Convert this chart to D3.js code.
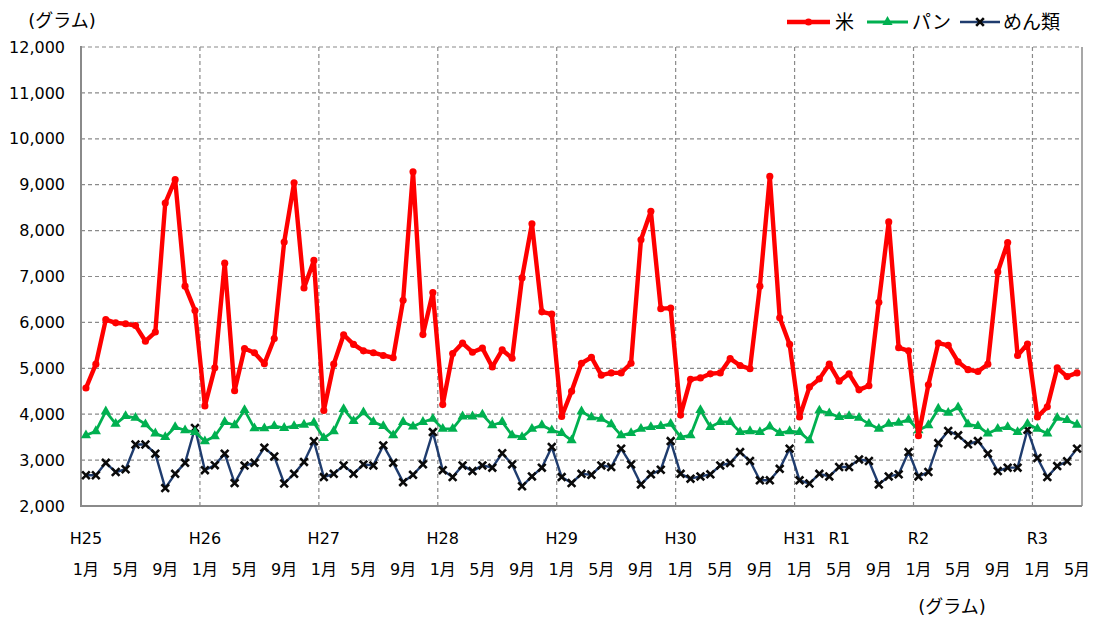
<!DOCTYPE html>
<html><head><meta charset="utf-8">
<script src="https://cdn.jsdelivr.net/npm/d3@7"></script>
<style>
html,body{margin:0;padding:0;background:#fff;}
svg{display:block;font-family:"DejaVu Sans","Noto Sans CJK JP",sans-serif;}
</style></head>
<body>
<svg id="chart" width="1095" height="621"></svg>
<script>
// ---- data (monthly, H25 Jan .. R3 May) ----
const yearLabels = ["H25","H26","H27","H28","H29","H30","H31","R1","R2","R3"];
const yearLabelIndex = [0,12,24,36,48,60,72,76,84,96];
const monthLabels = ["1月","5月","9月"];
const seriesNames = ["米","パン","めん類"];
const yTicks = [2000,3000,4000,5000,6000,7000,8000,9000,10000,11000,12000];

const rice = [4570,5090,6060,5990,5970,5930,5590,5790,8600,9110,6790,6260,
4180,5010,7290,4510,5430,5340,5100,5650,7750,9040,6750,7350,
4080,5090,5730,5520,5380,5340,5280,5230,6480,9280,5735,6650,
4210,5320,5550,5350,5440,5030,5400,5220,6970,8150,6230,6180,
3950,4500,5110,5240,4850,4900,4900,5110,7800,8420,6300,6310,
3980,4760,4790,4880,4900,5210,5060,4990,6790,9180,6100,5520,
3940,4590,4770,5090,4720,4880,4530,4620,6440,8190,5450,5380,
3530,4640,5550,5500,5140,4970,4930,5090,7100,7740,5280,5530,
3940,4160,5010,4820,4900];
const bread = [3540,3630,4060,3790,3960,3920,3780,3580,3500,3720,3650,3610,
3410,3520,3830,3760,4090,3690,3690,3740,3700,3740,3770,3815,
3480,3630,4110,3850,4040,3830,3740,3540,3830,3730,3830,3900,
3680,3680,3950,3950,3990,3760,3830,3540,3500,3680,3760,3650,
3590,3430,4060,3930,3900,3780,3540,3590,3680,3720,3740,3790,
3500,3540,4090,3720,3830,3830,3610,3630,3610,3730,3590,3630,
3610,3430,4080,4020,3940,3960,3920,3790,3680,3790,3810,3880,
3650,3760,4120,4030,4150,3780,3740,3580,3680,3720,3610,3790,
3680,3580,3920,3870,3770];
const noodles = [2670,2670,2940,2740,2800,3340,3340,3140,2390,2700,2940,3700,
2780,2890,3140,2500,2880,2940,3270,3080,2490,2700,2960,3410,
2630,2700,2885,2700,2905,2885,3320,2940,2520,2680,2907,3610,
2780,2630,2885,2760,2885,2835,3150,2905,2430,2645,2835,3285,
2630,2500,2700,2680,2885,2850,3250,2905,2470,2690,2790,3415,
2700,2595,2645,2690,2885,2935,3175,2980,2560,2560,2810,3250,
2560,2490,2700,2645,2850,2850,3015,2980,2470,2645,2690,3175,
2645,2740,3370,3635,3540,3345,3415,3140,2760,2835,2835,3660,
3045,2630,2870,2975,3250];

// ---- layout ----
const svg = d3.select("#chart");
const L = 81, R = 1082, T = 47, B = 506;
const idx = d3.range(rice.length);
const x = d3.scaleBand().domain(idx).range([L, R]).padding(0);
const cx = i => x(i) + x.bandwidth() / 2;
const y = d3.scaleLinear().domain([2000, 12000]).range([B, T]);

const gridColor = "#8a8a8a";
// horizontal grid
svg.append("g").selectAll("line").data(yTicks.filter(v => v > 2000)).join("line")
  .attr("x1", L).attr("x2", R).attr("y1", d => y(d)).attr("y2", d => y(d))
  .attr("stroke", gridColor).attr("stroke-width", 1.2).attr("stroke-dasharray", "4,3");
// vertical grid at year boundaries
const yearBounds = idx.filter(i => i > 0 && i % 12 === 0);
svg.append("g").selectAll("line").data(yearBounds).join("line")
  .attr("x1", d => x(d)).attr("x2", d => x(d)).attr("y1", T).attr("y2", B)
  .attr("stroke", gridColor).attr("stroke-width", 1.2).attr("stroke-dasharray", "4,3");

// frame
svg.append("line").attr("x1", R).attr("x2", R).attr("y1", T).attr("y2", B)
  .attr("stroke", gridColor).attr("stroke-width", 1.5);
svg.append("line").attr("x1", L).attr("x2", L).attr("y1", T - 1).attr("y2", B + 1)
  .attr("stroke", gridColor).attr("stroke-width", 2);
svg.append("line").attr("x1", L).attr("x2", R).attr("y1", B).attr("y2", B)
  .attr("stroke", gridColor).attr("stroke-width", 2);

// y axis labels
const yAxis = d3.axisLeft(y).tickValues(yTicks).tickFormat(d3.format(",")).tickSize(0).tickPadding(16);
const gy = svg.append("g").attr("transform", `translate(${L},0)`).call(yAxis);
gy.select(".domain").remove();
gy.selectAll("text").attr("font-size", 16).attr("fill", "#000")
  .attr("font-family", "'DejaVu Sans','Noto Sans CJK JP',sans-serif");

// x labels
svg.append("g").selectAll("text").data(yearLabels).join("text")
  .attr("x", (d, k) => cx(yearLabelIndex[k])).attr("y", 544)
  .attr("text-anchor", "middle").attr("font-size", 16).attr("fill", "#000").text(d => d);
const monthIdx = idx.filter(i => i % 4 === 0);
svg.append("g").selectAll("text").data(monthIdx).join("text")
  .attr("x", d => cx(d)).attr("y", 575)
  .attr("text-anchor", "middle").attr("font-size", 16).attr("fill", "#000")
  .text(d => monthLabels[(d % 12) / 4]);

// unit labels
svg.append("text").attr("x", 62).attr("y", 27).attr("text-anchor", "middle")
  .attr("font-size", 18).attr("fill", "#000").text("(グラム)");
svg.append("text").attr("x", 952).attr("y", 613).attr("text-anchor", "middle")
  .attr("font-size", 18).attr("fill", "#000").text("(グラム)");

// series
const line = d3.line().x((d, i) => cx(i)).y(d => y(d));
const series = [
  {name: seriesNames[0], data: rice, color: "#ff0000", w: 4.4, marker: "circle"},
  {name: seriesNames[1], data: bread, color: "#00b050", w: 2.8, marker: "triangle"},
  {name: seriesNames[2], data: noodles, color: "#1f3c6e", w: 2.4, marker: "x"}
];
const symCircle = d3.symbol().type(d3.symbolCircle).size(40)();
const symTri = d3.symbol().type(d3.symbolTriangle).size(45)();
const symX = d3.symbol().type(d3.symbolX).size(40)();

function drawMarker(g, s, px, py) {
  if (s.marker === "circle") {
    g.append("path").attr("d", symCircle).attr("transform", `translate(${px},${py})`).attr("fill", s.color);
  } else if (s.marker === "triangle") {
    g.append("path").attr("d", symTri).attr("transform", `translate(${px},${py})`).attr("fill", s.color);
  } else {
    g.append("path").attr("d", symX).attr("transform", `translate(${px},${py})`)
      .attr("fill", "none").attr("stroke", "#0a0a0a").attr("stroke-width", 2.6);
  }
}

// draw bottom series first so rice is on top
[series[2], series[1], series[0]].forEach(s => {
  const g = svg.append("g");
  g.append("path").datum(s.data).attr("d", line).attr("fill", "none")
    .attr("stroke", s.color).attr("stroke-width", s.w).attr("stroke-linejoin", "round");
  s.data.forEach((v, i) => drawMarker(g, s, cx(i), y(v)));
});

// legend
const legendPos = [{x1: 787, x2: 830, tx: 835}, {x1: 867, x2: 908, tx: 912}, {x1: 960, x2: 1000, tx: 1003}];
series.forEach((s, k) => {
  const p = legendPos[k];
  const g = svg.append("g");
  g.append("line").attr("x1", p.x1).attr("x2", p.x2).attr("y1", 22).attr("y2", 22)
    .attr("stroke", s.color).attr("stroke-width", s.w + 0.3);
  drawMarker(g, s, (p.x1 + p.x2) / 2, 22);
  g.append("text").attr("x", p.tx).attr("y", 29).attr("font-size", 19).attr("fill", "#000")
    .attr("font-family", "'Noto Sans CJK JP',sans-serif").text(s.name);
});
</script>
</body></html>
